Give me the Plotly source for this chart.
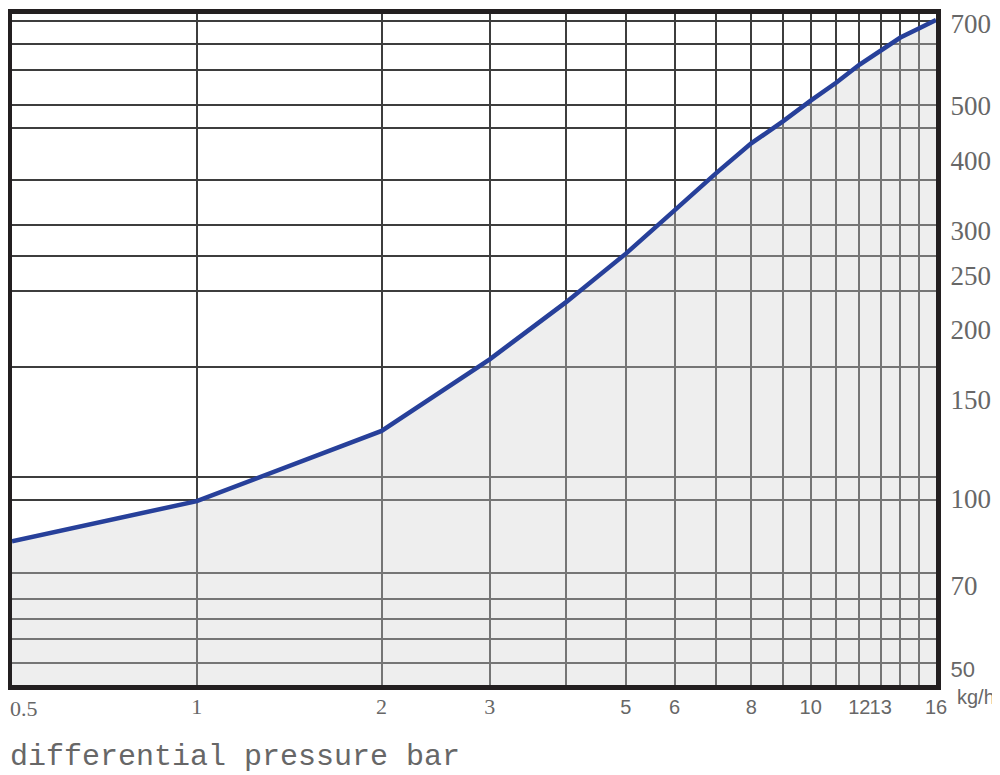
import math
import plotly.graph_objects as go

# ---- data ----
pressure_bar = [0.5, 1, 2, 3, 4, 5, 6, 7, 8, 9, 10, 11, 12, 13, 14, 15, 16]
flow_kgh = [84, 99, 132, 177, 224, 273, 326, 379, 429, 469, 511, 550, 592, 628, 662, 687, 711]

x_tick_vals = [1, 2, 3, 5, 6, 8, 10, 12, 13, 16]
x_tick_labels = ["1", "2", "3", "5", "6", "8", "10", "12", "13", "16"]
x_serif_labels = ["1", "2", "3"]
x_min_label = "0.5"
x_grid_vals = [1, 2, 3, 4, 5, 6, 7, 8, 9, 10, 11, 12, 13, 14, 15]

y_tick_vals = [50, 70, 100, 150, 200, 250, 300, 400, 500, 700]
y_tick_labels = ["50", "70", "100", "150", "200", "250", "300", "400", "500", "700"]
y_sans_labels = ["50"]
y_grid_vals = [51, 56.3, 61.1, 66.3, 73.8, 99.5, 109.3, 171.6, 234, 270, 307, 369, 457, 502, 580, 645, 708]

x_title = "differential pressure bar"
y_unit = "kg/h"

# ---- styling ----
GRAY_TXT = "#676767"
FRAME = "#231f20"
GRID = "#3d3d3d"
SERIF = "Liberation Serif"
SANS = "Liberation Sans"

x_text = []
for t in x_tick_labels:
    if t in x_serif_labels:
        x_text.append(f'<span style="font-family:{SERIF};font-size:22px">{t}</span>')
    else:
        x_text.append(t)

y_text = []
for t in y_tick_labels:
    if t in y_sans_labels:
        y_text.append(f'<span style="font-family:{SANS};font-size:22px">{t}</span>')
    else:
        y_text.append(t)

fig = go.Figure()
fig.add_trace(go.Scatter(
    x=pressure_bar, y=flow_kgh, mode="lines",
    line=dict(color="#27409a", width=4.5),
    fill="tozeroy", fillcolor="rgba(210,210,210,0.38)",
    hoverinfo="x+y", showlegend=False,
))

fig.update_layout(
    width=1000, height=775,
    margin=dict(l=4, r=72, t=6, b=98, autoexpand=False),
    paper_bgcolor="white", plot_bgcolor="white",
    xaxis=dict(
        type="log",
        range=[math.log10(0.5), math.log10(16)],
        tickmode="array", tickvals=x_tick_vals, ticktext=x_text,
        tickfont=dict(family=SANS, size=20, color=GRAY_TXT),
        tickangle=0, ticks="", ticklabelstandoff=0,
        ticklabeloverflow="allow",
        showgrid=False, zeroline=False,
        minor=dict(tickmode="array", tickvals=x_grid_vals, showgrid=True,
                   gridcolor=GRID, gridwidth=1.5, ticks=""),
        showline=True, mirror=True, linewidth=5, linecolor=FRAME,
    ),
    yaxis=dict(
        type="log", side="right",
        range=[math.log10(46.6), math.log10(729)],
        tickmode="array", tickvals=y_tick_vals, ticktext=y_text,
        tickfont=dict(family=SERIF, size=27, color=GRAY_TXT),
        ticks="", ticklabelstandoff=4,
        ticklabeloverflow="allow",
        showgrid=False, zeroline=False,
        minor=dict(tickmode="array", tickvals=y_grid_vals, showgrid=True,
                   gridcolor=GRID, gridwidth=1.5, ticks=""),
        showline=True, mirror=True, linewidth=5, linecolor=FRAME,
    ),
    annotations=[
        dict(text=x_min_label, xref="paper", yref="paper", x=-0.0043, y=-0.0343,
             xanchor="left", yanchor="middle", showarrow=False,
             font=dict(family=SERIF, size=22, color=GRAY_TXT)),
        dict(text=x_title, xref="paper", yref="paper", x=-0.0043, y=-0.1073,
             xanchor="left", yanchor="middle", showarrow=False,
             font=dict(family="Liberation Mono", size=30, color=GRAY_TXT)),
        dict(text=y_unit, xref="paper", yref="paper", x=1.0433, y=-0.0179,
             xanchor="center", yanchor="middle", showarrow=False,
             font=dict(family=SANS, size=20, color=GRAY_TXT)),
    ],
)

fig.write_html("out.html")
